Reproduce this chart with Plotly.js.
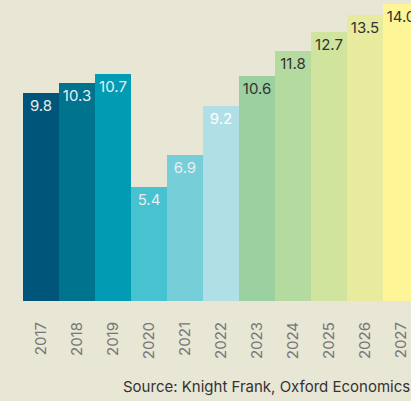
<!DOCTYPE html>
<html><head><meta charset="utf-8">
<script src="https://cdn.plot.ly/plotly-3.0.1.min.js"></script>
<style>html,body{margin:0;padding:0;background:#e8e6d4;}</style>
</head><body>
<div id="chart" style="width:411px;height:401px;"></div>
<script>
const years = ["2017","2018","2019","2020","2021","2022","2023","2024","2025","2026","2027"];
const values = [9.8, 10.3, 10.7, 5.4, 6.9, 9.2, 10.6, 11.8, 12.7, 13.5, 14.0];
const barColors = ["#00557a","#00738f","#019bb3","#47c2d1","#76ced9","#b0e0e6","#9bd0a0","#b5da9f","#d0e49e","#e8ea9e","#fef597"];
const labelColors = ["#e6eef0","#e6eef0","#e6eef0","#e6eef0","#e6eef0","#ffffff","#333333","#333333","#333333","#333333","#333333"];
const sourceText = "Source: Knight Frank, Oxford Economics";

const trace = {
  type: "bar",
  x: years,
  y: values,
  text: values.map(v => v.toFixed(1)),
  textposition: "inside",
  insidetextanchor: "end",
  textangle: 0,
  constraintext: "none",
  cliponaxis: true,
  textfont: {family: "Inter, 'Noto Sans', sans-serif", size: 15, color: labelColors},
  marker: {color: barColors, line: {width: 0}},
  hoverinfo: "none"
};

const layout = {
  width: 411, height: 401,
  margin: {l: 23, r: 0, t: 0, b: 100, pad: 0},
  paper_bgcolor: "#e8e6d4",
  plot_bgcolor: "#e8e6d4",
  bargap: 0,
  showlegend: false,
  font: {family: "Inter, 'Noto Sans', sans-serif"},
  xaxis: {
    type: "category",
    range: [-0.5, 10.278],
    tickangle: -90,
    ticks: "",
    ticklabelstandoff: 17,
    tickfont: {size: 15, color: "#777777"},
    showgrid: false, zeroline: false, showline: false, fixedrange: true
  },
  yaxis: {
    range: [0, 14.2],
    visible: false, showgrid: false, zeroline: false, fixedrange: true
  },
  annotations: [{
    text: sourceText,
    xref: "paper", yref: "paper",
    x: (121 - 23) / 388, y: (301 - 387) / 301,
    xanchor: "left", yanchor: "middle",
    showarrow: false,
    font: {size: 15, color: "#333333"}
  }]
};

Plotly.newPlot("chart", [trace], layout, {displayModeBar: false, staticPlot: true});
</script>
</body></html>
